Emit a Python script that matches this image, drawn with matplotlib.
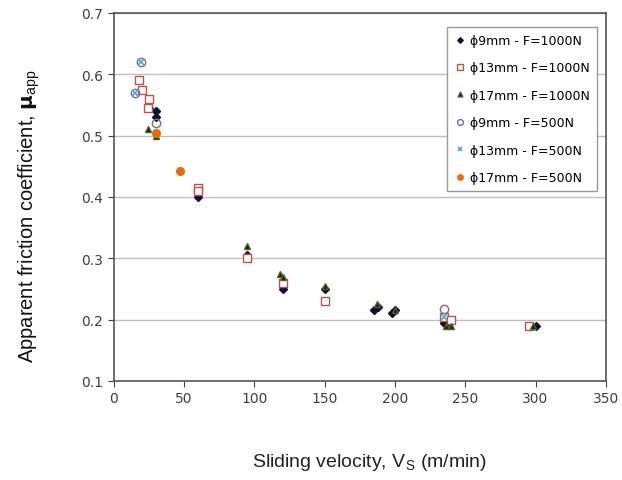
import matplotlib
matplotlib.use("Agg")
import matplotlib.pyplot as plt

# -----------------------------
# Data
# -----------------------------
x_9_1000 = [25, 30, 30, 60, 95, 120, 120, 150, 185, 188, 198, 200, 235, 238, 295, 300]
y_9_1000 = [0.545, 0.54, 0.53, 0.40, 0.305, 0.255, 0.25, 0.25, 0.215, 0.22, 0.21, 0.215, 0.195, 0.195, 0.19, 0.19]

x_13_1000 = [18, 20, 25, 24, 60, 60, 95, 120, 150, 235, 240, 295]
y_13_1000 = [0.59, 0.575, 0.56, 0.545, 0.415, 0.41, 0.30, 0.26, 0.23, 0.205, 0.20, 0.19]

x_17_1000 = [24, 30, 95, 118, 120, 150, 187, 200, 236, 240, 298]
y_17_1000 = [0.51, 0.50, 0.32, 0.275, 0.27, 0.255, 0.225, 0.215, 0.19, 0.19, 0.19]

x_9_500 = [15, 19, 30, 235]
y_9_500 = [0.57, 0.62, 0.52, 0.218]

x_13_500 = [15, 19, 235]
y_13_500 = [0.57, 0.62, 0.205]

x_17_500 = [30, 47]
y_17_500 = [0.505, 0.443]

labels = ["ϕ9mm - F=1000N", "ϕ13mm - F=1000N", "ϕ17mm - F=1000N",
          "ϕ9mm - F=500N", "ϕ13mm - F=500N", "ϕ17mm - F=500N"]

# -----------------------------
# Plotting
# -----------------------------
plt.rcParams['font.family'] = ['DejaVu Sans']
fig = plt.figure(figsize=(6.22, 4.81), dpi=100)
ax = fig.add_axes([0.183, 0.206, 0.791, 0.765])

ax.plot(x_9_1000, y_9_1000, 'D', ms=4, color='#0a1230', mec='#0a1230', label=labels[0])
ax.plot(x_13_1000, y_13_1000, 's', ms=6, mfc='white', mec='#c0504d', mew=1, label=labels[1])
ax.plot(x_17_1000, y_17_1000, '^', ms=5, color='#1a220a', mec='#4f6228', label=labels[2])
ax.plot(x_9_500, y_9_500, 'o', ms=6, mfc='none', mec='#8064a2', mew=1, label=labels[3])
ax.plot(x_13_500, y_13_500, 'x', ms=5, color='#4bacc6', mew=1.2, label=labels[4])
ax.plot(x_17_500, y_17_500, 'o', ms=5.5, color='#e46c0a', label=labels[5])

ax.set_xlim(0, 350)
ax.set_ylim(0.1, 0.7)
ax.set_xticks(range(0, 351, 50))
ax.set_yticks([0.1, 0.2, 0.3, 0.4, 0.5, 0.6, 0.7])
ax.set_yticklabels(['0.1', '0.2', '0.3', '0.4', '0.5', '0.6', '0.7'])
ax.yaxis.grid(True, color='#c0c0c0', lw=1)
ax.set_axisbelow(True)
ax.tick_params(labelsize=10, colors='#404040', length=4, direction='out')
for s in ax.spines.values():
    s.set_color('#555555')
    s.set_linewidth(1.2)

ax.set_xlabel('Sliding velocity, V$_\\mathregular{S}$ (m/min)', fontsize=14,
              family='Liberation Sans', color='#222222')
ax.xaxis.set_label_coords(0.52, -0.19)
ax.set_ylabel('Apparent friction coefficient, $\\mathbf{\\mu}$$_\\mathregular{app}$', fontsize=14.5,
              family='Liberation Sans', color='#111111')
ax.yaxis.set_label_coords(-0.147, 0.45)

leg = ax.legend(loc='upper right', bbox_to_anchor=(0.995, 0.98), fontsize=9, handlelength=0.8,
                handletextpad=0.4, borderpad=0.6, labelspacing=1.15, fancybox=False,
                framealpha=1, edgecolor='#999999', markerscale=0.7)
leg.get_frame().set_linewidth(1)

fig.savefig('out.png', dpi=100)
